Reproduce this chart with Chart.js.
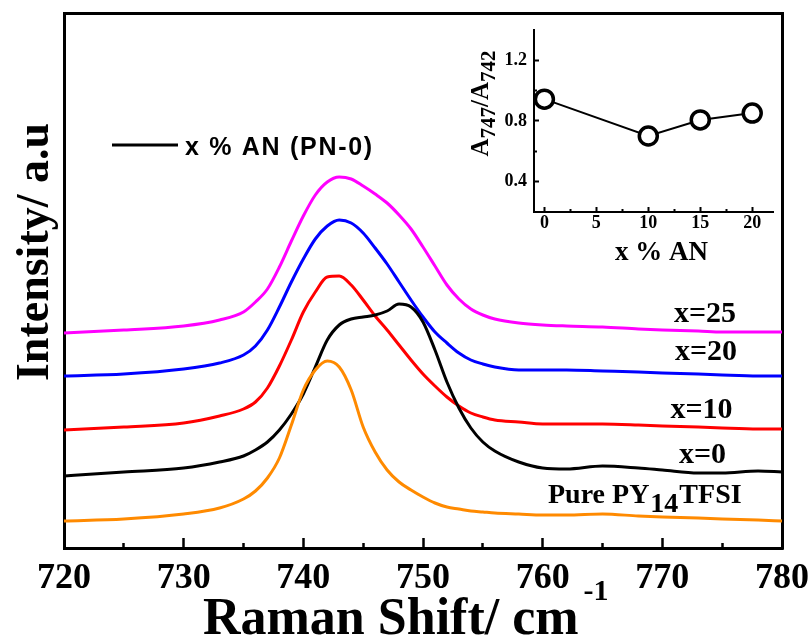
<!DOCTYPE html>
<html><head><meta charset="utf-8">
<script src="https://cdn.jsdelivr.net/npm/chart.js@4.4.1/dist/chart.umd.min.js"></script>
<style>
html,body{margin:0;padding:0;background:#fff;}
#wrap{position:relative;width:812px;height:636px;overflow:hidden;}
#main{position:absolute;left:0;top:0;}
#inset{position:absolute;left:440px;top:0;}
</style></head><body>
<div id="wrap"><canvas id="main" width="812" height="636"></canvas><canvas id="inset" width="372" height="270"></canvas></div>
<script>
// ---------- data ----------
const wavenumbers = [720,725,730,733,735,736,737,738,739,740,741,742,743,744,745,746,747,748,749,750,751,752,753,754,755,756,758,760,762,765,768,770,773,775,778,780];
const pureIL  = [27,29,34,40,49,57,70,90,123,158,178,187,181,158,121,96,78,66,58,51,45,41,39,37,36,35,34,33,33,34,32,31,30,29,28,27];
const an0     = [72,76,80,86,92,98,106,118,134,154,181,208,223,229,231,233,237,244,241,226,198,166,140,120,106,97,86,80,79,82,80,78,75,75,77,76];
const an10    = [118,121,125,132,139,146,160,182,208,236,256,271,272,263,248,232,218,203,188,174,162,151,142,135,131,128,126,124,124,124,123,122,121,120,119,119];
const an20    = [172,174,179,185,193,202,218,241,266,289,309,322,328,325,315,300,284,266,248,231,216,205,195,188,184,181,178,178,178,177,176,175,174,173,172,172];
const an25    = [215,218,222,228,236,246,259,281,307,332,353,366,371,369,362,354,345,333,319,301,282,263,249,239,233,229,225,223,222,221,219,218,217,216,216,216];
const seriesNames = ['Pure PY14TFSI','x=0','x=10','x=20','x=25'];
const mainXTicks = [720,730,740,750,760,770,780];
const mainXMinor = [725,735,745,755,765,775];

const insetAN    = [0,10,15,20];
const insetRatio = [0.944,0.701,0.807,0.852];
const insetXTicks = [0,5,10,15,20];
const insetXMinor = [2.5,7.5,12.5,17.5];
const insetYTicks = [0.4,0.8,1.2];
const insetYMinor = [0.6,1.0];

// ---------- helpers ----------
const SERIF = '"Liberation Serif","Times New Roman",serif';
const SANS = '"Liberation Sans",Arial,sans-serif';
function toPts(xs, ys){ return xs.map((x,i)=>({x:x, y:ys[i]})); }
function setTicks(list){ return (axis)=>{ axis.ticks = list.map(v=>({value:v})); }; }
function fitH(h){ return (a)=>{ a.height=h; a.paddingLeft=0; a.paddingRight=0; a.paddingTop=0; a.paddingBottom=0; }; }
function fitW(w){ return (a)=>{ a.width=w; a.paddingLeft=0; a.paddingRight=0; a.paddingTop=0; a.paddingBottom=0; }; }
function drawRich(ctx, x, y, segs, align, rot){
  ctx.save();
  ctx.translate(x,y);
  if (rot) ctx.rotate(rot);
  ctx.textBaseline = 'alphabetic';
  ctx.textAlign = 'left';
  let total = 0;
  const widths = segs.map(s=>{ ctx.font = 'bold ' + s.size + 'px ' + (s.family||SERIF); const w = ctx.measureText(s.t).width + (s.gap||0); total += w; return w; });
  let cx = align === 'center' ? -total/2 : 0;
  segs.forEach((s,i)=>{ ctx.font = 'bold ' + s.size + 'px ' + (s.family||SERIF); ctx.fillStyle = '#000'; ctx.fillText(s.t, cx + (s.gap||0), s.dy||0); cx += widths[i]; });
  ctx.restore();
}

// ---------- main chart ----------
const colors = ['#FF8A00','#000000','#FF0000','#0000FF','#FF00FF'];
const seriesData = [pureIL, an0, an10, an20, an25];

const mainText = {
  id:'mainText',
  afterDraw(chart){
    const ctx = chart.ctx;
    ctx.save();
    ctx.strokeStyle = '#000'; ctx.lineWidth = 3;
    ctx.beginPath(); ctx.moveTo(112,145); ctx.lineTo(178,145); ctx.stroke();
    ctx.font = 'bold 25px ' + SANS; ctx.fillStyle = '#000';
    ctx.letterSpacing = '1.7px';
    ctx.textBaseline = 'alphabetic';
    ctx.fillText('x % AN (PN-0)', 185, 155);
    ctx.letterSpacing = '0px';
    ctx.restore();
    drawRich(ctx, 705, 322, [{t:'x=25', size:30}], 'center');
    drawRich(ctx, 706, 360, [{t:'x=20', size:30}], 'center');
    drawRich(ctx, 701.5, 418, [{t:'x=10', size:30}], 'center');
    drawRich(ctx, 702.5, 463, [{t:'x=0', size:30}], 'center');
    drawRich(ctx, 548, 503, [{t:'Pure PY', size:28},{t:'14', size:28, dy:8.5, gap:1},{t:'TFSI', size:28, gap:1}], 'left');
    drawRich(ctx, 203, 634, [{t:'Raman Shift/ cm', size:52},{t:'-1', size:30, dy:-34, gap:5}], 'left');
    drawRich(ctx, 48, 252, [{t:'Intensity/ a.u', size:46}], 'center', -Math.PI/2);
  }
};

new Chart(document.getElementById('main'), {
  type:'line',
  data:{ datasets: seriesData.map((arr,i)=>({
    label: seriesNames[i], data: toPts(wavenumbers, arr),
    borderColor: colors[i], borderWidth: 3, pointRadius: 0, cubicInterpolationMode:'monotone', fill:false
  })) },
  options:{
    responsive:false, animation:false, devicePixelRatio:1,
    layout:{padding:0},
    plugins:{legend:{display:false}, tooltip:{enabled:false}},
    scales:{
      x:{ type:'linear', position:'bottom', weight:1, min:720, max:780,
          afterBuildTicks:setTicks(mainXTicks), afterFit:fitH(88),
          grid:{drawOnChartArea:false, tickLength:-10, tickWidth:2.5, tickColor:'#000'},
          border:{width:3, color:'#000'},
          ticks:{padding:19, color:'#000', maxRotation:0, autoSkip:false, font:{family:SERIF, weight:'bold', size:36}} },
      xm:{ type:'linear', position:'bottom', weight:0, min:720, max:780,
          afterBuildTicks:setTicks(mainXMinor), afterFit:fitH(0),
          grid:{drawOnChartArea:false, tickLength:-5, tickWidth:2.5, tickColor:'#000'},
          border:{display:false}, ticks:{display:false} },
      xt:{ type:'linear', position:'top', min:720, max:780,
          afterFit:fitH(13), grid:{display:false},
          border:{width:3, color:'#000'}, ticks:{display:false} },
      y:{ type:'linear', position:'left', min:0, max:535,
          afterFit:fitW(64), grid:{display:false},
          border:{width:3, color:'#000'}, ticks:{display:false} },
      yr:{ type:'linear', position:'right', min:0, max:535,
          afterFit:fitW(30), grid:{display:false},
          border:{width:3, color:'#000'}, ticks:{display:false} }
    }
  },
  plugins:[mainText]
});

// ---------- inset chart ----------
const insetText = {
  id:'insetText',
  afterDraw(chart){
    const ctx = chart.ctx;
    drawRich(ctx, 221.5, 260, [{t:'x % AN', size:27}], 'center');
    drawRich(ctx, 48, 103.5, [{t:'A', size:25},{t:'747', size:21, dy:7},{t:'/A', size:25},{t:'742', size:21, dy:7}], 'center', -Math.PI/2);
  }
};

new Chart(document.getElementById('inset'), {
  type:'line',
  data:{ datasets:[{ label:'A747/A742', data: toPts(insetAN, insetRatio),
    borderColor:'#000', borderWidth:2, pointRadius:9, pointBorderWidth:3.5,
    pointBackgroundColor:'#fff', pointBorderColor:'#000', tension:0 }] },
  options:{
    responsive:false, animation:false, devicePixelRatio:1,
    layout:{padding:{top:30, right:39, left:0, bottom:0}},
    plugins:{legend:{display:false}, tooltip:{enabled:false}},
    scales:{
      x:{ type:'linear', position:'bottom', weight:1, min:-1, max:22,
          afterBuildTicks:setTicks(insetXTicks), afterFit:fitH(58),
          grid:{drawOnChartArea:false, tickLength:-5, tickWidth:2, tickColor:'#000'},
          border:{width:2, color:'#000'},
          ticks:{padding:6, color:'#000', maxRotation:0, autoSkip:false, font:{family:SERIF, weight:'bold', size:18}} },
      xm:{ type:'linear', position:'bottom', weight:0, min:-1, max:22,
          afterBuildTicks:setTicks(insetXMinor), afterFit:fitH(0),
          grid:{drawOnChartArea:false, tickLength:-3, tickWidth:2, tickColor:'#000'},
          border:{display:false}, ticks:{display:false} },
      y:{ type:'linear', position:'left', weight:1, min:0.2, max:1.4,
          afterBuildTicks:setTicks(insetYTicks), afterFit:fitW(94),
          grid:{drawOnChartArea:false, tickLength:-5, tickWidth:2, tickColor:'#000'},
          border:{width:2, color:'#000'},
          ticks:{padding:12, color:'#000', autoSkip:false, font:{family:SERIF, weight:'bold', size:18}, callback:(v)=>Number(v).toFixed(1)} },
      ym:{ type:'linear', position:'left', weight:0, min:0.2, max:1.4,
          afterBuildTicks:setTicks(insetYMinor), afterFit:fitW(0),
          grid:{drawOnChartArea:false, tickLength:-3, tickWidth:2, tickColor:'#000'},
          border:{display:false}, ticks:{display:false} }
    }
  },
  plugins:[insetText]
});
</script>
</body></html>
